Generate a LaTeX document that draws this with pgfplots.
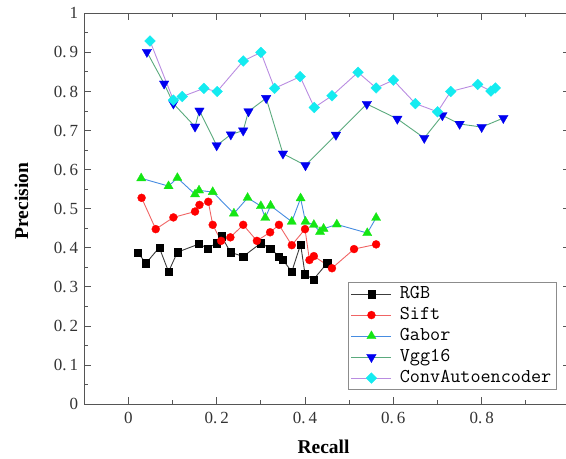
\documentclass[border=0pt]{standalone}
\usepackage{fontspec}
\setmainfont{Liberation Serif}
\usepackage{pgfplots}
\pgfplotsset{compat=1.18}

% series colours: line / marker
\definecolor{rgbline}{RGB}{60,60,60}
\definecolor{siftline}{RGB}{240,100,100}
\definecolor{siftmark}{RGB}{255,0,0}
\definecolor{gaborline}{RGB}{70,140,225}
\definecolor{gabormark}{RGB}{20,230,20}
\definecolor{vggline}{RGB}{90,170,125}
\definecolor{vggmark}{RGB}{0,0,240}
\definecolor{convline}{RGB}{185,140,225}
\definecolor{convmark}{RGB}{20,235,240}
\definecolor{axisgray}{RGB}{85,85,85}

\newcommand\tl[1]{0.\kern3pt#1}

\begin{document}
\begin{tikzpicture}
\begin{axis}[
    scale only axis,
    width=485.8pt, height=391pt,
    xmin=-0.1, xmax=1.0, ymin=0, ymax=1,
    xtick={0,0.2,0.4,0.6,0.8},
    xticklabels={0,\tl2,\tl4,\tl6,\tl8},
    minor xtick={-0.1,0.1,0.3,0.5,0.7,0.9},
    ytick={0,0.1,0.2,0.3,0.4,0.5,0.6,0.7,0.8,0.9,1},
    yticklabels={0,\tl1,\tl2,\tl3,\tl4,\tl5,\tl6,\tl7,\tl8,\tl9,1},
    minor ytick={0.05,0.15,0.25,0.35,0.45,0.55,0.65,0.75,0.85,0.95},
    tick align=inside,
    major tick length=7pt, minor tick length=4pt,
    tick style={axisgray, line width=1pt},
    axis line style={axisgray, line width=1.3pt},
    tick label style={font=\fontsize{17}{19}\selectfont, text=black!80},
    x tick label style={yshift=-4pt},
    y tick label style={xshift=-2.5pt},
    xlabel={Recall},
    ylabel={Precision},
    every axis x label/.style={at={(rel axis cs:0.4926,-0.109)}, anchor=center,
        font=\fontsize{19.5}{22}\selectfont\bfseries},
    every axis y label/.style={at={(rel axis cs:-0.129,0.52)}, anchor=center, rotate=90,
        font=\fontsize{19.5}{22}\selectfont\bfseries},
    legend cell align=left,
    legend style={
        at={(rel axis cs:0.9726,0.0366)}, anchor=south east,
        draw=black!45, line width=0.8pt, fill=white,
        font=\fontsize{19.6}{22}\selectfont\ttfamily,
        inner xsep=3pt, inner ysep=1pt, row sep=0pt,
        nodes={inner sep=2pt, text height=13pt, text depth=4pt},
        /tikz/every odd column/.append style={column sep=6pt}
    },
    legend image code/.code={
        \draw[mark repeat=2, mark phase=2] plot coordinates {(0pt,0pt) (20pt,0pt) (40pt,0pt)};
    },
]

\addplot[color=rgbline, line width=0.9pt, mark=square*, mark size=3.6pt,
    mark options={solid, fill=black, draw=black, line width=0.3pt}] coordinates {
    (0.021,0.388) (0.040,0.361) (0.070,0.401) (0.091,0.339) (0.111,0.389)
    (0.160,0.410) (0.180,0.399) (0.199,0.412) (0.211,0.430) (0.231,0.389)
    (0.260,0.378) (0.300,0.412) (0.321,0.399) (0.341,0.378) (0.350,0.369)
    (0.370,0.339) (0.390,0.409) (0.400,0.333) (0.419,0.319) (0.450,0.361)
};
\addlegendentry{RGB}

\addplot[color=siftline, line width=0.9pt, mark=*, mark size=4pt,
    mark options={solid, fill=siftmark, draw=siftmark, line width=0.3pt}] coordinates {
    (0.030,0.528) (0.062,0.448) (0.102,0.478) (0.151,0.493) (0.161,0.510)
    (0.181,0.518) (0.191,0.459) (0.210,0.418) (0.231,0.427) (0.260,0.459)
    (0.291,0.418) (0.321,0.440) (0.341,0.459) (0.370,0.407) (0.400,0.448)
    (0.410,0.369) (0.420,0.379) (0.461,0.348) (0.511,0.397) (0.561,0.409)
};
\addlegendentry{Sift}

\addplot[color=gaborline, line width=0.9pt, mark=triangle*, mark size=5.3pt,
    mark options={solid, fill=gabormark, draw=gabormark, line width=0.3pt}] coordinates {
    (0.029,0.578) (0.091,0.558) (0.111,0.579) (0.151,0.537) (0.160,0.547)
    (0.191,0.543) (0.239,0.488) (0.270,0.528) (0.300,0.507) (0.310,0.477)
    (0.322,0.508) (0.370,0.467) (0.390,0.527) (0.401,0.467) (0.420,0.459)
    (0.434,0.441) (0.442,0.449) (0.472,0.460) (0.541,0.438) (0.561,0.477)
};
\addlegendentry{Gabor}

\addplot[color=vggline, line width=0.9pt, mark=triangle*, mark size=5.5pt,
    mark options={solid, rotate=180, fill=vggmark, draw=vggmark, line width=0.3pt}] coordinates {
    (0.042,0.901) (0.081,0.820) (0.102,0.769) (0.151,0.710) (0.161,0.751)
    (0.200,0.662) (0.232,0.690) (0.260,0.700) (0.272,0.749) (0.312,0.783)
    (0.350,0.641) (0.401,0.611) (0.470,0.689) (0.540,0.768) (0.609,0.730)
    (0.670,0.681) (0.711,0.739) (0.750,0.717) (0.800,0.709) (0.849,0.732)
};
\addlegendentry{Vgg16}

\addplot[color=convline, line width=0.9pt, mark=square*, mark size=3.8pt,
    mark options={solid, rotate=45, fill=convmark, draw=convmark, line width=0.3pt}] coordinates {
    (0.049,0.929) (0.102,0.778) (0.122,0.787) (0.171,0.808) (0.201,0.800)
    (0.260,0.878) (0.300,0.900) (0.331,0.808) (0.389,0.838) (0.421,0.759)
    (0.461,0.789) (0.520,0.849) (0.561,0.809) (0.600,0.829) (0.650,0.769)
    (0.700,0.748) (0.730,0.800) (0.791,0.818) (0.821,0.801) (0.831,0.809)
};
\addlegendentry{ConvAutoencoder}

\coordinate (sw) at (rel axis cs:0,0);
\coordinate (ne) at (rel axis cs:1,1);
\end{axis}
\pgfresetboundingbox
\useasboundingbox ([xshift=-84.2pt,yshift=-54.7pt]sw) rectangle ([xshift=-4pt,yshift=13.3pt]ne);
\end{tikzpicture}
\end{document}
